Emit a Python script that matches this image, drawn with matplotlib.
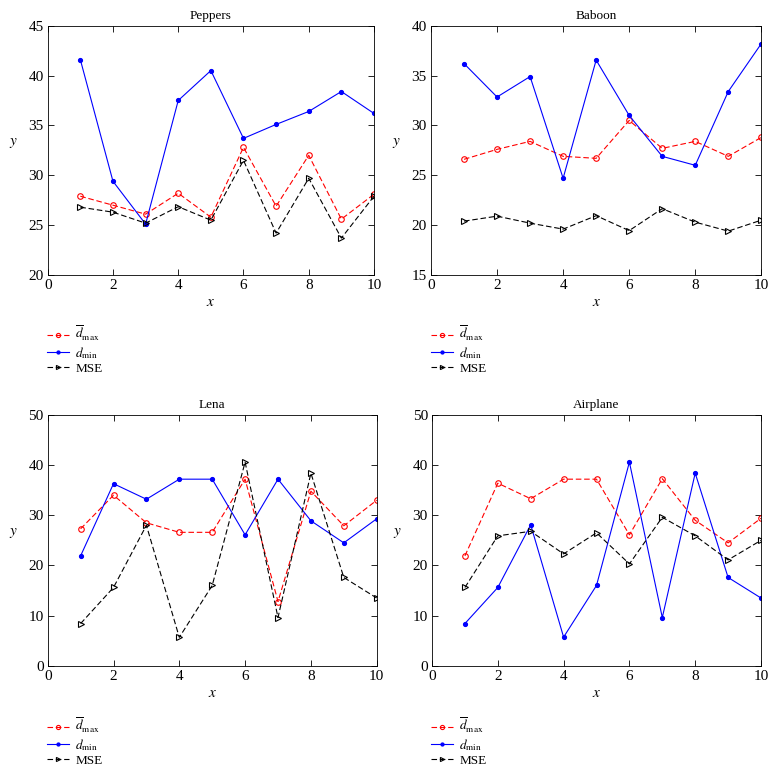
import matplotlib
matplotlib.use("Agg")
import matplotlib.pyplot as plt

plt.rcParams["font.family"] = ["Liberation Serif", "DejaVu Serif"]
plt.rcParams["mathtext.fontset"] = "stix"
plt.rcParams["font.size"] = 8

X = [1, 2, 3, 4, 5, 6, 7, 8, 9, 10]

TITLES = ["Peppers", "Baboon", "Lena", "Airplane"]
YLIMS = [(20, 45), (15, 40), (0, 50), (0, 50)]
YTICKS = [
    [20, 25, 30, 35, 40, 45],
    [15, 20, 25, 30, 35, 40],
    [0, 10, 20, 30, 40, 50],
    [0, 10, 20, 30, 40, 50],
]

peppers_dmax = [27.9, 27.0, 26.1, 28.2, 25.8, 32.8, 26.9, 32.0, 25.6, 28.1]
peppers_dmin = [41.6, 29.4, 25.1, 37.5, 40.5, 33.7, 35.1, 36.4, 38.4, 36.2]
peppers_mse = [26.8, 26.3, 25.2, 26.85, 25.5, 31.5, 24.2, 29.7, 23.7, 27.9]

baboon_dmax = [26.6, 27.6, 28.4, 26.9, 26.7, 30.5, 27.7, 28.4, 26.9, 28.8]
baboon_dmin = [36.2, 32.85, 34.9, 24.7, 36.55, 31.0, 26.9, 26.0, 33.4, 38.2]
baboon_mse = [20.4, 20.9, 20.2, 19.6, 20.95, 19.45, 21.65, 20.3, 19.4, 20.5]

lena_dmax = [27.3, 34.0, 28.5, 26.6, 26.6, 37.2, 12.8, 34.8, 27.9, 33.0]
lena_dmin = [21.9, 36.3, 33.2, 37.2, 37.2, 26.1, 37.2, 28.9, 24.5, 29.3]
lena_mse = [8.4, 15.6, 28.0, 5.65, 16.0, 40.6, 9.6, 38.4, 17.6, 13.5]

airplane_dmax = [21.9, 36.4, 33.3, 37.2, 37.2, 26.1, 37.3, 29.0, 24.5, 29.4]
airplane_dmin = [8.4, 15.6, 28.1, 5.7, 16.0, 40.6, 9.6, 38.4, 17.6, 13.5]
airplane_mse = [15.6, 25.9, 26.8, 22.3, 26.5, 20.3, 29.6, 25.9, 21.1, 25.0]

DMAX = [peppers_dmax, baboon_dmax, lena_dmax, airplane_dmax]
DMIN = [peppers_dmin, baboon_dmin, lena_dmin, airplane_dmin]
MSE = [peppers_mse, baboon_mse, lena_mse, airplane_mse]

W, H = 776, 772
# axes boxes in pixels: left, top, right, bottom
BOXES = [
    (47.7, 25.7, 374.0, 275.0),
    (431.0, 25.7, 761.3, 275.0),
    (47.7, 415.0, 376.7, 665.7),
    (432.0, 415.0, 761.0, 665.7),
]
# legend upper-left anchors in pixels
LEG_POS = [(47, 324), (431, 324), (47, 716), (431, 716)]

fig = plt.figure(figsize=(W / 100, H / 100), dpi=100)

for i in range(4):
    l, t, r, b = BOXES[i]
    ax = fig.add_axes([l / W, 1 - b / H, (r - l) / W, (b - t) / H])

    ax.plot(X, DMAX[i], color="#ff0000", linestyle="--", linewidth=0.8,
            marker="o", markersize=4, markerfacecolor="none",
            markeredgewidth=0.8, dashes=(5, 2.5), label=r"$\overline{d}_{\mathrm{max}}$")
    ax.plot(X, DMIN[i], color="#0000ff", linestyle="-", linewidth=0.8,
            marker=".", markersize=5.5, label=r"$d_{\mathrm{min}}$")
    ax.plot(X, MSE[i], color="black", linestyle="--", linewidth=0.8,
            marker=">", markersize=4, markerfacecolor="none",
            markeredgewidth=0.8, dashes=(5, 2.5), label="MSE")

    ax.set_xlim(0, 10)
    ax.set_ylim(*YLIMS[i])
    ax.set_xticks([0, 2, 4, 6, 8, 10])
    ax.set_yticks(YTICKS[i])
    ax.tick_params(direction="in", top=True, right=True, length=4,
                   width=0.6, labelsize=11, pad=3)
    for sp in ax.spines.values():
        sp.set_linewidth(0.6)

    ax.set_title(TITLES[i], fontsize=9.5, pad=5)
    ax.set_xlabel("$x$", fontsize=11)
    ax.xaxis.set_label_coords(0.5, -0.085)
    ax.set_ylabel("$y$", fontsize=11, rotation=0)
    ax.yaxis.set_label_coords(-0.105, 0.5)

    lx, ly = LEG_POS[i]
    ax.legend(loc="upper left", bbox_to_anchor=(lx / W, 1 - ly / H),
              bbox_transform=fig.transFigure, frameon=False, fontsize=9.5,
              handlelength=1.7, handletextpad=0.45, labelspacing=0.15,
              markerscale=0.75, borderaxespad=0, borderpad=0)

fig.savefig("out.png", dpi=100)
